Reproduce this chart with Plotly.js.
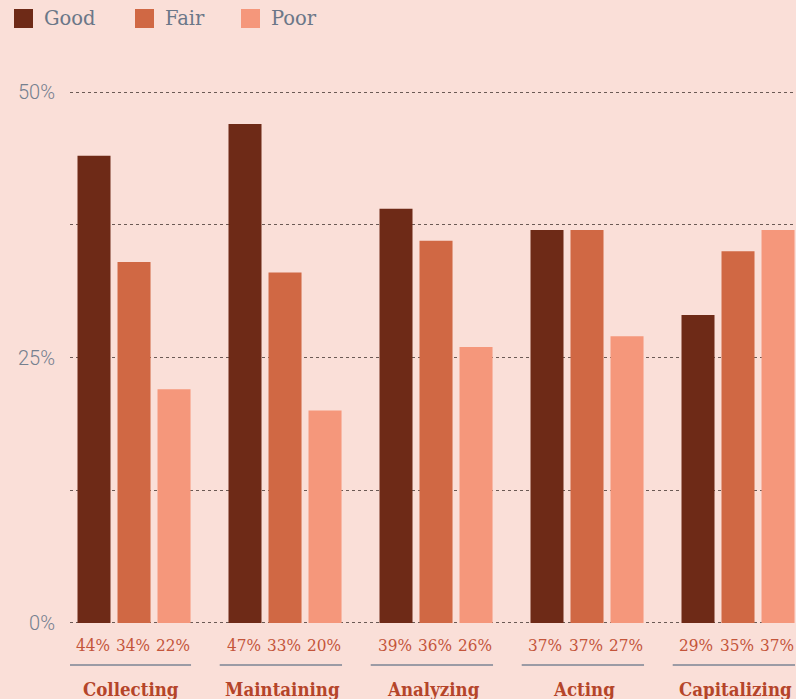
<!DOCTYPE html>
<html>
<head>
<meta charset="utf-8">
<script src="https://cdn.plot.ly/plotly-3.0.1.min.js"></script>
<style>
  html, body { margin: 0; padding: 0; background: #fadfd8; }
  #chart { width: 796px; height: 699px; }
</style>
</head>
<body>
<div id="chart"></div>
<script>
const categories = ['Collecting', 'Maintaining', 'Analyzing', 'Acting', 'Capitalizing'];
const seriesNames = ['Good', 'Fair', 'Poor'];
const good = [44, 47, 39, 37, 29];
const fair = [34, 33, 36, 37, 35];
const poor = [22, 20, 26, 27, 37];
const yTickVals = [0, 12.5, 25, 37.5, 50];
const yTickText = ['0%', '', '25%', '', '50%'];

const colors = ['#6e2a17', '#d06844', '#f5977b'];
const series = [good, fair, poor];
const xIdx = categories.map((_, i) => i);

const bargap = 0.205;
const bargroupgap = 0.175;
const slot = (1 - bargap) / series.length;

const traces = series.map((vals, k) => ({
  type: 'bar',
  name: seriesNames[k],
  x: xIdx,
  y: vals,
  marker: { color: colors[k], line: { width: 0 } },
  hoverinfo: 'skip',
  showlegend: false
}));

const annotations = [];
const shapes = [];
const plotLeft = 70, plotW = 726, plotTop = 91, plotH = 533;
const px = (x) => (x - plotLeft) / plotW;
const py = (y) => 1 - (y - plotTop) / plotH;

// value labels below each bar
series.forEach((vals, k) => {
  const off = (k - (series.length - 1) / 2) * slot;
  vals.forEach((v, i) => {
    annotations.push({
      xref: 'x', yref: 'paper', x: i + off - 0.01, y: py(645),
      text: v + '%', showarrow: false, xanchor: 'center', yanchor: 'middle',
      font: { family: 'DejaVu Serif Condensed, DejaVu Serif', size: 17, color: '#c4553b' }
    });
  });
});

// underline + category labels
categories.forEach((c, i) => {
  shapes.push({
    type: 'line', xref: 'x', yref: 'paper',
    x0: i - 1.5 * slot - 0.035, x1: i + 1.5 * slot - 0.02,
    y0: py(665), y1: py(665),
    line: { color: '#9b9ba5', width: 2 }
  });
  annotations.push({
    xref: 'x', yref: 'paper', x: i - 0.02, y: py(689),
    text: c, showarrow: false, xanchor: 'center', yanchor: 'middle',
    font: { family: 'DejaVu Serif Condensed, DejaVu Serif', size: 18.5, color: '#b5452a', weight: 'bold' }
  });
});

// custom legend
const legendPx = [14, 135, 241];
seriesNames.forEach((n, k) => {
  shapes.push({
    type: 'rect', xref: 'paper', yref: 'paper',
    x0: px(legendPx[k]), x1: px(legendPx[k] + 19),
    y0: py(9), y1: py(28),
    fillcolor: colors[k], line: { width: 0 }
  });
  annotations.push({
    xref: 'paper', yref: 'paper', x: px(legendPx[k] + 28), y: py(19),
    text: n, showarrow: false, xanchor: 'left', yanchor: 'middle',
    font: { family: 'DejaVu Serif', size: 19.5, color: '#6b7788' }
  });
});

const layout = {
  width: 796, height: 699,
  paper_bgcolor: '#fadfd8', plot_bgcolor: '#fadfd8',
  margin: { l: 70, r: 0, t: 91, b: 75 },
  barmode: 'group', bargap: bargap, bargroupgap: bargroupgap,
  showlegend: false,
  xaxis: {
    range: [-0.424, 4.384], showticklabels: false, showgrid: false,
    zeroline: false, showline: false, ticks: '', fixedrange: true
  },
  yaxis: {
    range: [-0.1, 50.1], tickvals: yTickVals, ticktext: yTickText,
    showgrid: true, gridcolor: '#6b5a55', gridwidth: 1, griddash: 'dot',
    zeroline: false, showline: false, ticks: '',
    tickfont: { family: 'Roboto', size: 20, color: '#75808f', weight: 300 },
    ticklabelstandoff: 14, fixedrange: true
  },
  annotations: annotations,
  shapes: shapes
};

Plotly.newPlot('chart', traces, layout, { displayModeBar: false, staticPlot: true });
</script>
</body>
</html>
